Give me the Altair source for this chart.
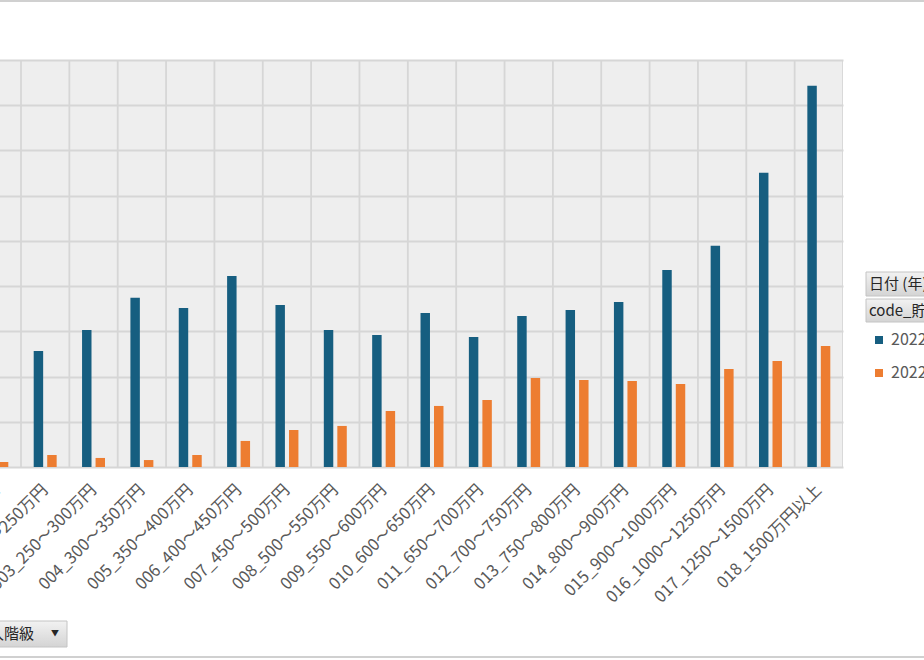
import altair as alt
import pandas as pd

categories = [
    "001_200万円未満", "002_200～250万円", "003_250～300万円", "004_300～350万円",
    "005_350～400万円", "006_400～450万円", "007_450～500万円", "008_500～550万円",
    "009_550～600万円", "010_600～650万円", "011_650～700万円", "012_700～750万円",
    "013_750～800万円", "014_800～900万円", "015_900～1000万円", "016_1000～1250万円",
    "017_1250～1500万円", "018_1500万円以上",
]
series = ["2022 - 01_貯蓄現在高", "2022 - 02_負債現在高"]
savings = [1200, 1283, 1515, 1870, 1759, 2113, 1792, 1515, 1460, 1704, 1438, 1670,
           1737, 1825, 2179, 2445, 3252, 4215]
debts = [55, 133, 100, 77, 133, 288, 409, 454, 619, 675, 741, 985, 962, 951, 918,
         1084, 1173, 1338]
y_ticks = [0, 500, 1000, 1500, 2000, 2500, 3000, 3500, 4000, 4500]

rows = []
for c, s, d in zip(categories, savings, debts):
    rows.append({"cat": c, "series": series[0], "value": s})
    rows.append({"cat": c, "series": series[1], "value": d})
df = pd.DataFrame(rows)
cat_df = pd.DataFrame({"cat": categories})
one = pd.DataFrame({"d": [0]})

W, H = 843, 407
BLUE, ORANGE = "#165e80", "#ed7d31"
GRID = "#d6d6d6"
FONT = "Noto Sans CJK JP"

xscale = alt.Scale(domain=categories, range=[-27.35, 843], paddingInner=0, paddingOuter=0)
xaxis = alt.Axis(title=None, labelAngle=-45, labelAlign="right", labelBaseline="middle",
                 labelFontSize=16.5, labelColor="#595959", labelFont=FONT, ticks=False,
                 domain=False, grid=False, labelPadding=20, labelLimit=300,
                 labelOverlap=False)

bars = alt.Chart(df).mark_bar(clip=True).encode(
    x=alt.X("cat:N", scale=xscale, axis=xaxis, sort=categories),
    xOffset=alt.XOffset("series:N", scale=alt.Scale(domain=series, paddingInner=0.3,
                                                     paddingOuter=0.94)),
    y=alt.Y("value:Q", scale=alt.Scale(domain=[0, 4500], nice=False),
            axis=alt.Axis(values=y_ticks, labels=False, ticks=False, domain=False,
                          title=None, grid=True, gridColor=GRID, gridWidth=1.8)),
    color=alt.Color("series:N", scale=alt.Scale(domain=series, range=[BLUE, ORANGE]),
                    legend=alt.Legend(orient="none", legendX=871, legendY=272, title=None,
                                      symbolType="square", symbolSize=64,
                                      symbolStrokeWidth=0, labelFontSize=16,
                                      labelColor="#595959", labelFont=FONT,
                                      rowPadding=17, padding=0, labelLimit=400,
                                      labelOffset=4)),
)

vgrid = alt.Chart(cat_df).mark_rule(clip=True, color=GRID, strokeWidth=1.8).encode(
    x=alt.X("cat:N", scale=xscale, axis=xaxis, sort=categories, bandPosition=1),
)

top_line = alt.Chart(one).mark_rule(color="#d0d0d0", strokeWidth=2).encode(
    x=alt.value(0), x2=alt.value(924), y=alt.value(-59))
bottom_line = alt.Chart(one).mark_rule(color="#d0d0d0", strokeWidth=2).encode(
    x=alt.value(0), x2=alt.value(924), y=alt.value(597))

btn_grad = alt.LinearGradient(gradient="linear", x1=0, x2=0, y1=0, y2=1,
                              stops=[alt.GradientStop(color="#f2f2f2", offset=0),
                                     alt.GradientStop(color="#d4d4d4", offset=1)])

hdr1 = alt.Chart(one).mark_rect(fill=btn_grad, stroke="#c4c4c4", strokeWidth=1).encode(
    x=alt.value(866), x2=alt.value(940), y=alt.value(212), y2=alt.value(236))
hdr2 = alt.Chart(one).mark_rect(fill=btn_grad, stroke="#c4c4c4", strokeWidth=1).encode(
    x=alt.value(866), x2=alt.value(940), y=alt.value(239), y2=alt.value(262))
hdr1_t = alt.Chart(one).mark_text(text="日付 (年)", align="left", baseline="middle",
                                   fontSize=15, font=FONT, color="#262626").encode(
    x=alt.value(869), y=alt.value(224))
hdr2_t = alt.Chart(one).mark_text(text="code_貯蓄負債", align="left", baseline="middle",
                                   fontSize=15, font=FONT, color="#262626").encode(
    x=alt.value(869), y=alt.value(251))

btn = alt.Chart(one).mark_rect(fill=btn_grad, stroke="#c4c4c4", strokeWidth=1).encode(
    x=alt.value(-5), x2=alt.value(67), y=alt.value(561), y2=alt.value(587))
btn_t = alt.Chart(one).mark_text(text="年間収入階級", align="right", baseline="middle",
                                  fontSize=15, font=FONT, color="#262626").encode(
    x=alt.value(34), y=alt.value(574))
btn_a = alt.Chart(one).mark_text(text="▼", align="center", baseline="middle",
                                  fontSize=8, font=FONT, color="#262626").encode(
    x=alt.value(55), y=alt.value(574))

chart = alt.layer(
    vgrid, bars, top_line, bottom_line, hdr1, hdr2, hdr1_t, hdr2_t, btn, btn_t, btn_a
).properties(
    width=W, height=H,
    autosize=alt.AutoSizeParams(type="none"),
    padding={"left": 0, "top": 60, "right": 81, "bottom": 193},
    background="white",
).configure_view(
    stroke=None, fill="#eeeeee"
)

chart.save("out.html", embed_options={"renderer": "svg", "actions": False})
